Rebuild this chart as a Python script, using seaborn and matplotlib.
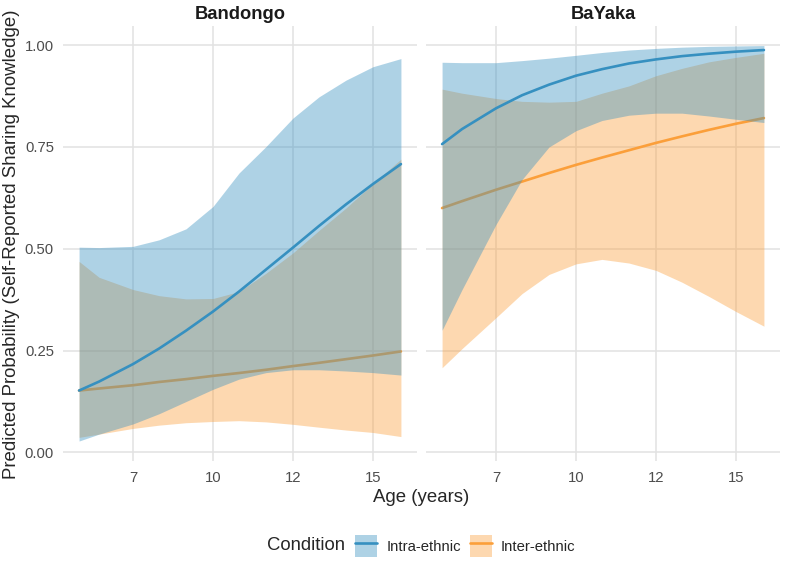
import numpy as np
import pandas as pd
import matplotlib
matplotlib.use("Agg")
import matplotlib.pyplot as plt
import seaborn as sns
from matplotlib.patches import Patch
from matplotlib.lines import Line2D

# standardised age (ticks at -1..2 are labelled with the back-transformed years)
age_z = [-1.675, -1.425, -1.0, -0.675, -0.3375, 0.0, 0.325, 0.6625, 1.0, 1.325, 1.6625, 2.0, 2.35]
tick_pos = [-1, 0, 1, 2]
tick_labels = ["7", "10", "12", "15"]
y_ticks = [0.0, 0.25, 0.50, 0.75, 1.00]

# Bandongo
band_intra_fit = [0.152, 0.174, 0.217, 0.255, 0.299, 0.346, 0.395, 0.449, 0.503, 0.556, 0.609, 0.659, 0.708]
band_intra_lo = [0.028, 0.045, 0.070, 0.095, 0.125, 0.155, 0.180, 0.196, 0.203, 0.203, 0.200, 0.196, 0.190]
band_intra_hi = [0.504, 0.503, 0.506, 0.522, 0.549, 0.604, 0.686, 0.751, 0.821, 0.873, 0.914, 0.947, 0.967]
band_inter_fit = [0.152, 0.157, 0.165, 0.173, 0.180, 0.188, 0.195, 0.203, 0.212, 0.220, 0.229, 0.238, 0.248]
band_inter_lo = [0.037, 0.045, 0.059, 0.067, 0.073, 0.076, 0.078, 0.075, 0.069, 0.062, 0.055, 0.049, 0.039]
band_inter_hi = [0.469, 0.430, 0.400, 0.385, 0.377, 0.378, 0.395, 0.440, 0.490, 0.545, 0.600, 0.660, 0.720]

# BaYaka
baya_intra_fit = [0.757, 0.794, 0.845, 0.877, 0.903, 0.925, 0.941, 0.955, 0.965, 0.973, 0.979, 0.984, 0.988]
baya_intra_lo = [0.300, 0.400, 0.560, 0.670, 0.750, 0.790, 0.815, 0.828, 0.833, 0.833, 0.826, 0.818, 0.810]
baya_intra_hi = [0.958, 0.957, 0.957, 0.962, 0.968, 0.975, 0.982, 0.988, 0.992, 0.995, 0.997, 0.998, 0.999]
baya_inter_fit = [0.600, 0.617, 0.645, 0.665, 0.686, 0.706, 0.724, 0.742, 0.760, 0.776, 0.792, 0.807, 0.821]
baya_inter_lo = [0.208, 0.255, 0.331, 0.390, 0.437, 0.463, 0.474, 0.465, 0.447, 0.418, 0.383, 0.346, 0.310]
baya_inter_hi = [0.892, 0.882, 0.869, 0.862, 0.860, 0.862, 0.882, 0.900, 0.925, 0.943, 0.959, 0.970, 0.980]

groups = ["Bandongo", "BaYaka"]
conditions = ["Intra-ethnic", "Inter-ethnic"]
colors = {"Intra-ethnic": "#3690C0", "Inter-ethnic": "#FB9F3A"}
# draw order: inter ribbon, inter line, intra ribbon, intra line
zorders = {"Inter-ethnic": (2, 2.5), "Intra-ethnic": (3, 4)}

series = {
    ("Bandongo", "Intra-ethnic"): (band_intra_fit, band_intra_lo, band_intra_hi),
    ("Bandongo", "Inter-ethnic"): (band_inter_fit, band_inter_lo, band_inter_hi),
    ("BaYaka", "Intra-ethnic"): (baya_intra_fit, baya_intra_lo, baya_intra_hi),
    ("BaYaka", "Inter-ethnic"): (baya_inter_fit, baya_inter_lo, baya_inter_hi),
}
rows = []
for (g, c), (fit, lo, hi) in series.items():
    for x, f, l, h in zip(age_z, fit, lo, hi):
        rows.append({"group": g, "condition": c, "age": x, "fit": f, "lo": l, "hi": h})
df = pd.DataFrame(rows)

sns.set_theme(style="whitegrid")
plt.rcParams["font.family"] = ["Liberation Sans", "DejaVu Sans"]

fig = plt.figure(figsize=(7.86, 5.61), dpi=100)
W, H = 786, 561
axes = [fig.add_axes([63 / W, 1 - 461 / H, 354 / W, 435 / H]),
        fig.add_axes([426 / W, 1 - 461 / H, 354 / W, 435 / H])]

for ax, g in zip(axes, groups):
    for c in ["Inter-ethnic", "Intra-ethnic"]:
        d = df[(df.group == g) & (df.condition == c)]
        zr, zl = zorders[c]
        ax.fill_between(d["age"], d["lo"], d["hi"], color=colors[c], alpha=0.4,
                        linewidth=0, zorder=zr)
        sns.lineplot(data=d, x="age", y="fit", color=colors[c], linewidth=1.9,
                     ax=ax, zorder=zl)
    ax.set_xlim(-1.876, 2.551)
    ax.set_ylim(-0.021, 1.047)
    ax.set_xticks(tick_pos)
    ax.set_xticklabels(tick_labels)
    ax.set_yticks(y_ticks)
    ax.set_yticklabels([f"{v:.2f}" for v in y_ticks])
    ax.set_xlabel(""); ax.set_ylabel("")
    ax.set_facecolor("white")
    ax.grid(True, color="#E2E2E2", linewidth=1.1)
    ax.set_axisbelow(True)
    for s in ax.spines.values():
        s.set_visible(False)
    ax.tick_params(axis="both", length=0, labelsize=10.7, labelcolor="#4D4D4D")
    ax.tick_params(axis="x", pad=7)
    ax.tick_params(axis="y", pad=6.5)
    ax.set_title(g, fontsize=13.2, fontweight="bold", color="#1A1A1A", pad=5)

axes[1].tick_params(axis="y", labelleft=False)

fig.text(12 / W, 1 - 244 / H, "Predicted Probability (Self-Reported Sharing Knowledge)",
         rotation=90, ha="center", va="center", fontsize=13.4)
fig.text(421 / W, 1 - 497 / H, "Age (years)", ha="center", va="center", fontsize=13.4)

fig.text(267 / W, 1 - 546 / H, "Condition", ha="left", va="center", fontsize=13.3)
handles = [(Patch(facecolor=colors[c], alpha=0.4, linewidth=0),
            Line2D([], [], color=colors[c], linewidth=1.9)) for c in conditions]
fig.legend(handles, conditions, loc="center left", bbox_to_anchor=(355 / W, 1 - 546 / H),
           ncol=2, frameon=False, fontsize=10.7, handlelength=1.5, handleheight=1.9,
           handletextpad=0.6, columnspacing=0.6, borderpad=0, borderaxespad=0)

fig.savefig("out.png", dpi=100)
